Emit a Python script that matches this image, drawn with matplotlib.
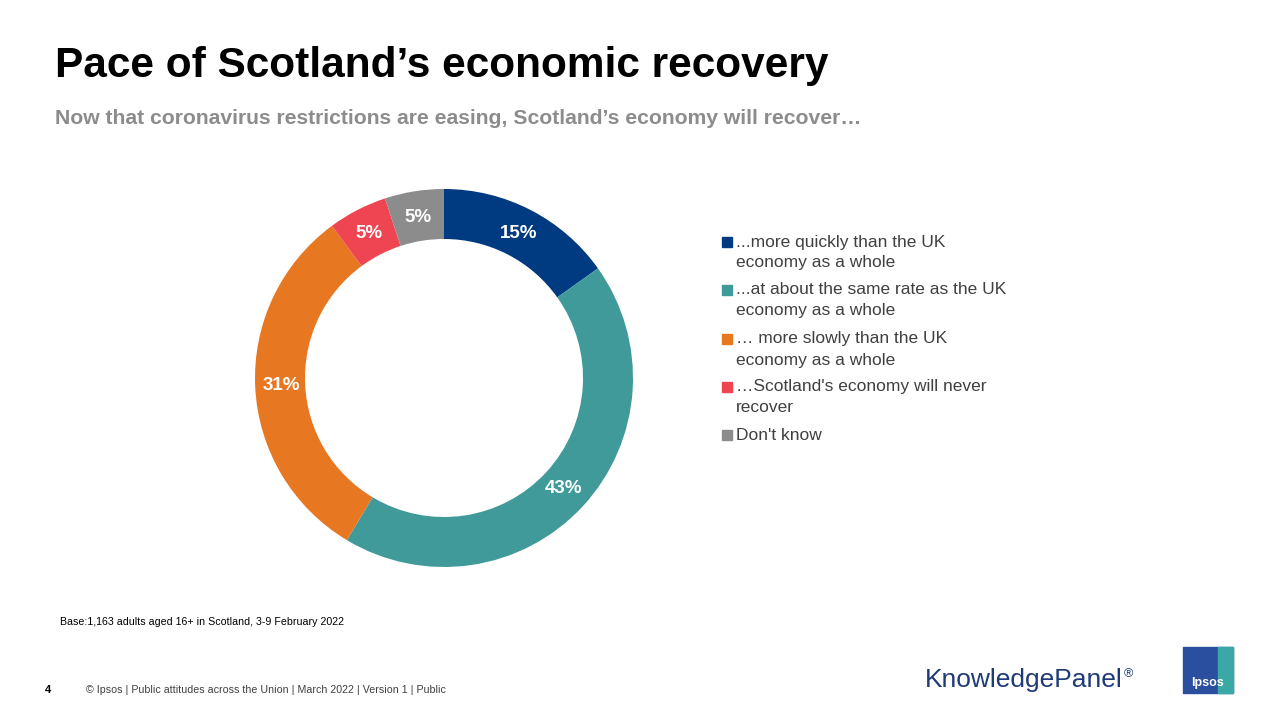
import matplotlib
matplotlib.use("Agg")
import matplotlib.pyplot as plt
from matplotlib.patches import Rectangle
import numpy as np

categories = ["...more quickly than the UK\neconomy as a whole",
              "...at about the same rate as the UK\neconomy as a whole",
              "… more slowly than the UK\neconomy as a whole",
              "…Scotland's economy will never\nrecover",
              "Don't know"]
values = [15, 43, 31, 5, 5]
colors = ["#003A80", "#409A9A", "#E87722", "#EF4452", "#8C8C8C"]

plt.rcParams["font.family"] = "Liberation Sans"
fig = plt.figure(figsize=(12.8, 7.2), dpi=100)

ax = fig.add_axes([244/1280, 142/720, 400/1280, 400/720])
wedges, _ = ax.pie(values, colors=colors, startangle=90, counterclock=False,
                   radius=0.945, wedgeprops=dict(width=0.25, linewidth=0))
for w, v in zip(wedges, values):
    ang = np.deg2rad((w.theta1 + w.theta2) / 2)
    ax.text(0.815*np.cos(ang), 0.815*np.sin(ang), f"{v}%", ha="center", va="center",
            color="white", fontsize=13.5, fontweight="bold")
ax.set_xlim(-1, 1); ax.set_ylim(-1, 1); ax.set_aspect("equal"); ax.axis("off")

ys = [242, 290, 339, 387, 435]
for y, lab, c in zip(ys, categories, colors):
    fig.patches.append(Rectangle((722/1280, 1-(y+5)/720), 10/1280, 10/720,
                                 transform=fig.transFigure, color=c))
    for i, line in enumerate(lab.split("\n")):
        fig.text(736/1280, 1-(y + 21*i)/720, line, fontsize=12.5, color="#404040",
                 va="center", ha="left")

fig.text(55/1280, 1-66/720, "Pace of Scotland’s economic recovery", fontsize=30.5,
         fontweight="bold", va="center", ha="left")
fig.text(55/1280, 1-119/720, "Now that coronavirus restrictions are easing, Scotland’s economy will recover…",
         fontsize=15.2, fontweight="bold", color="#8C8C8C", va="center", ha="left")
fig.text(60/1280, 1-622/720, "Base:1,163 adults aged 16+ in Scotland, 3-9 February 2022",
         fontsize=7.7, va="center", ha="left")
fig.text(45/1280, 1-690/720, "4", fontsize=8, fontweight="bold", va="center", ha="left")
fig.text(86/1280, 1-690/720, "© Ipsos | Public attitudes across the Union | March 2022 | Version 1 | Public",
         fontsize=7.7, color="#404040", va="center", ha="left")
fig.text(925/1280, 1-680/720, "KnowledgePanel", fontsize=19, color="#1F3A78",
         va="center", ha="left")
fig.text(1124/1280, 1-674/720, "®", fontsize=9, color="#1F3A78", va="center", ha="left")
fig.patches.append(Rectangle((1183/1280, 1-693/720), 50/1280, 46/720,
                             transform=fig.transFigure, color="#2A4F9E"))
fig.patches.append(Rectangle((1218/1280, 1-693/720), 15/1280, 46/720,
                             transform=fig.transFigure, color="#3AA9A5"))
fig.text(1208/1280, 1-683/720, "Ipsos", fontsize=9, fontweight="bold", color="white",
         va="center", ha="center")
fig.savefig("out.png", dpi=100)
